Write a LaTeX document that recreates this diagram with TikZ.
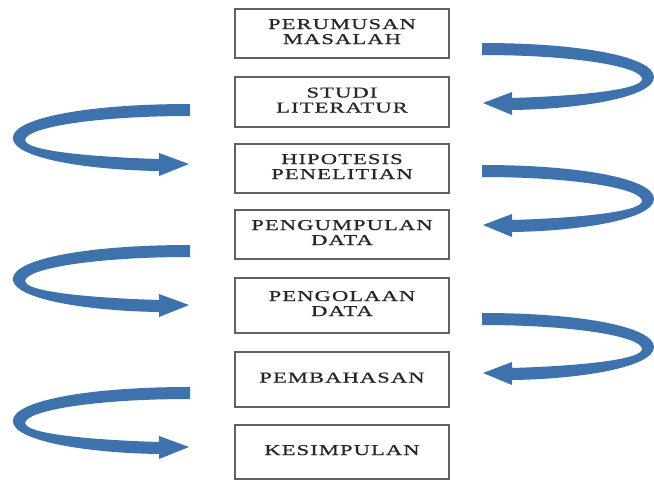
\documentclass[tikz,border=0pt]{standalone}
\usepackage{fontspec}
\newfontfamily\boxfont[LetterSpace=5,FakeBold=0.6]{Liberation Serif}
\definecolor{arrowblue}{RGB}{62,114,172}
\newcommand{\lbl}[1]{\scalebox{1.5}[1]{\begin{tabular}{@{}c@{}}#1\end{tabular}}}
\begin{document}
\begin{tikzpicture}[x=1pt,y=-1pt,
  stepbox/.style={draw=black!62,line width=1.6pt,fill=white,minimum width=214pt,
    inner sep=0pt,text=black!85,font=\boxfont\fontsize{15}{15}\selectfont},
  rarrow/.pic={\fill[arrowblue] (0,0) .. controls (100,0) and (172,14) .. (172,34)
     .. controls (172,54) and (100,66) .. (30,67) -- (30,72) -- (1,60) -- (30,49) -- (30,55)
     .. controls (95,53) and (160,47) .. (160,36)
     .. controls (160,24) and (95,12) .. (0,12) -- cycle;}]
\useasboundingbox (0,0) rectangle (654,480);
\node[stepbox,minimum height=49pt] (b1) at (342,33.5) {\lbl{PERUMUSAN\\MASALAH}};
\node[stepbox,minimum height=50pt] (b2) at (342,102) {\lbl{STUDI\\LITERATUR}};
\node[stepbox,minimum height=49pt] (b3) at (342,168.5) {\lbl{HIPOTESIS\\PENELITIAN}};
\node[stepbox,minimum height=49pt] (b4) at (342,234.5) {\lbl{PENGUMPULAN\\DATA}};
\node[stepbox,minimum height=55pt] (b5) at (342,305.5) {\lbl{PENGOLAAN\\DATA}};
\node[stepbox,minimum height=55pt] (b6) at (342,379.5) {\lbl{PEMBAHASAN}};
\node[stepbox,minimum height=54pt] (b7) at (342,452) {\lbl{KESIMPULAN}};
\pic at (482,43) {rarrow};
\pic at (482,165) {rarrow};
\pic at (482,313) {rarrow};
\pic[xscale=-1.03] at (190,104) {rarrow};
\pic[xscale=-1.03] at (190,245) {rarrow};
\pic[xscale=-1.03] at (190,387) {rarrow};
\end{tikzpicture}
\end{document}
